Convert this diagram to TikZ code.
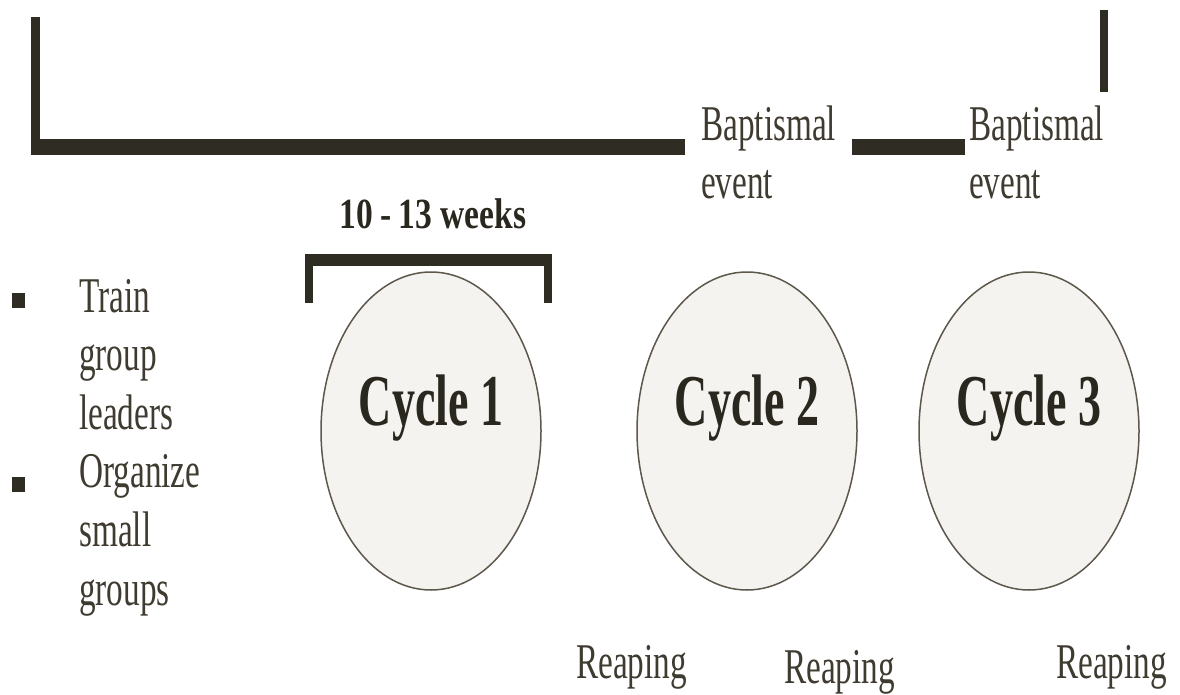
\documentclass[tikz,border=0pt]{standalone}
\usepackage{fontspec}
\setmainfont{Liberation Serif}
\newfontfamily\plainfont{Liberation Serif}[FakeStretch=0.665]
\newfontfamily\weekfont{Liberation Serif}[FakeStretch=0.78]
\newfontfamily\cyclefont{Liberation Serif}[FakeStretch=0.63]
\usetikzlibrary{shapes.geometric}
\definecolor{barink}{HTML}{2F2C23}
\definecolor{textink}{HTML}{3F3B31}
\definecolor{boldink}{HTML}{2A271F}
\definecolor{rimgray}{HTML}{5E574B}
\definecolor{cyclefill}{HTML}{F4F3F0}
\tikzset{
  plaintext/.style={anchor=base west, inner sep=0pt, text=textink, font=\plainfont\fontsize{50}{58}\selectfont},
  cyclebox/.style={ellipse, draw=rimgray, fill=cyclefill, line width=1.5pt, minimum width=220pt, minimum height=318pt, inner sep=0pt},
  cyclelabel/.style={anchor=base, inner sep=0pt, text=boldink, font=\cyclefont\bfseries\fontsize{73}{80}\selectfont},
  bulletbox/.style={rectangle, fill=barink, minimum width=13pt, minimum height=15pt, inner sep=0pt}
}
\begin{document}
\begin{tikzpicture}[x=1pt,y=1pt,yscale=-1,xscale=1]
        \useasboundingbox (0,0) rectangle (1180,695);

        % Timeline bars
        \fill[barink] (31,17) rectangle (40,155);
        \fill[barink] (31,139) rectangle (685,155);
        \fill[barink] (852,139) rectangle (965,155);
        \fill[barink] (1100,10) rectangle (1108,92);
        % Bracket over first cycle
        \fill[barink] (305,254) rectangle (552,266);
        \fill[barink] (305,254) rectangle (313,303);
        \fill[barink] (544,254) rectangle (552,303);

        % Text Node
        \node[plaintext] (bapt1) at (701,141) {Baptismal};
        \node[plaintext] (event1) at (701,199) {event};
        \node[plaintext] (bapt2) at (969,141) {Baptismal};
        \node[plaintext] (event2) at (969,199) {event};
        % Text Node
        \node[anchor=base, inner sep=0pt, text=boldink, font=\weekfont\bfseries\fontsize{43}{50}\selectfont] (weeks) at (433,228) {10\,-\,13 weeks};

        % Cycles
        \node[cyclebox] (cyc1) at (431,431) {};
        \node[cyclebox] (cyc2) at (747,431) {};
        \node[cyclebox] (cyc3) at (1029,431) {};
        \node[cyclelabel] (lab1) at ([yshift=-6pt]cyc1.center) {Cycle 1};
        \node[cyclelabel] (lab2) at ([yshift=-6pt]cyc2.center) {Cycle 2};
        \node[cyclelabel] (lab3) at ([yshift=-6pt]cyc3.center) {Cycle 3};

        % Bullet list
        \node[bulletbox] (bul1) at (18,300) {};
        \node[bulletbox] (bul2) at (18,484) {};
        \node[plaintext] (train) at (79,312) {Train};
        \node[plaintext] (group) at (79,370.6) {group};
        \node[plaintext] (leaders) at (79,429.2) {leaders};
        \node[plaintext] (organize) at (79,487.8) {Organize};
        \node[plaintext] (small) at (79,546.4) {small};
        \node[plaintext] (groups) at (79,605) {groups};

        % Text Node
        \node[plaintext] (reap1) at (576,678) {Reaping};
        \node[plaintext] (reap2) at (784,683) {Reaping};
        \node[plaintext] (reap3) at (1056,678) {Reaping};

\end{tikzpicture}
\end{document}
